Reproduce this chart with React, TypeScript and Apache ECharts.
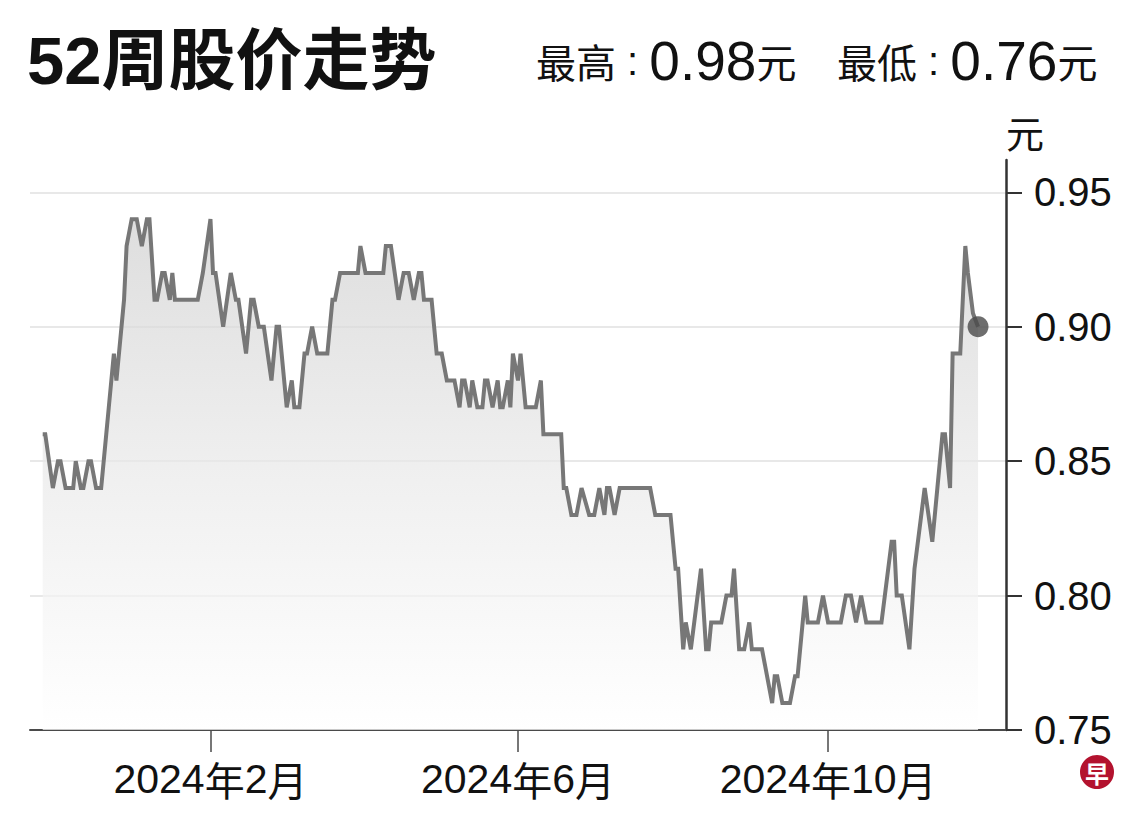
import React, { useEffect, useRef } from "react";
import * as echarts from "echarts";

// ---- data ----
const dates: string[] = [
  "2023-11-27", "2023-11-28", "2023-12-01", "2023-12-03", "2023-12-04", "2023-12-06", "2023-12-09", "2023-12-10",
  "2023-12-12", "2023-12-13", "2023-12-15", "2023-12-16", "2023-12-18", "2023-12-20", "2023-12-22", "2023-12-23",
  "2023-12-25", "2023-12-26", "2023-12-28", "2023-12-29", "2023-12-30", "2024-01-01", "2024-01-03", "2024-01-05",
  "2024-01-07", "2024-01-08", "2024-01-10", "2024-01-11", "2024-01-13", "2024-01-14", "2024-01-16", "2024-01-17",
  "2024-01-18", "2024-01-27", "2024-01-29", "2024-02-01", "2024-02-02", "2024-02-03", "2024-02-06", "2024-02-09",
  "2024-02-11", "2024-02-12", "2024-02-15", "2024-02-17", "2024-02-18", "2024-02-20", "2024-02-22", "2024-02-25",
  "2024-02-27", "2024-02-28", "2024-03-02", "2024-03-04", "2024-03-05", "2024-03-07", "2024-03-09", "2024-03-10",
  "2024-03-12", "2024-03-14", "2024-03-18", "2024-03-20", "2024-03-21", "2024-03-23", "2024-03-30", "2024-03-31",
  "2024-04-02", "2024-04-09", "2024-04-10", "2024-04-12", "2024-04-15", "2024-04-17", "2024-04-19", "2024-04-21",
  "2024-04-23", "2024-04-24", "2024-04-25", "2024-04-28", "2024-04-30", "2024-05-02", "2024-05-04", "2024-05-07",
  "2024-05-09", "2024-05-10", "2024-05-11", "2024-05-13", "2024-05-14", "2024-05-16", "2024-05-18", "2024-05-19",
  "2024-05-20", "2024-05-22", "2024-05-24", "2024-05-25", "2024-05-26", "2024-05-28", "2024-05-29", "2024-05-30",
  "2024-06-01", "2024-06-02", "2024-06-04", "2024-06-08", "2024-06-10", "2024-06-11", "2024-06-18", "2024-06-19",
  "2024-06-20", "2024-06-22", "2024-06-24", "2024-06-26", "2024-06-29", "2024-07-01", "2024-07-03", "2024-07-05",
  "2024-07-06", "2024-07-07", "2024-07-09", "2024-07-11", "2024-07-23", "2024-07-25", "2024-07-31", "2024-08-02",
  "2024-08-03", "2024-08-05", "2024-08-06", "2024-08-08", "2024-08-12", "2024-08-14", "2024-08-15", "2024-08-16",
  "2024-08-20", "2024-08-22", "2024-08-24", "2024-08-25", "2024-08-27", "2024-08-29", "2024-08-31", "2024-09-01",
  "2024-09-05", "2024-09-09", "2024-09-10", "2024-09-11", "2024-09-13", "2024-09-16", "2024-09-18", "2024-09-19",
  "2024-09-22", "2024-09-23", "2024-09-27", "2024-09-29", "2024-10-01", "2024-10-06", "2024-10-08", "2024-10-10",
  "2024-10-12", "2024-10-14", "2024-10-16", "2024-10-22", "2024-10-26", "2024-10-27", "2024-10-28", "2024-10-30",
  "2024-11-02", "2024-11-04", "2024-11-08", "2024-11-11", "2024-11-13", "2024-11-15", "2024-11-16", "2024-11-18",
  "2024-11-19", "2024-11-22", "2024-11-24", "2024-11-25", "2024-11-27", "2024-11-29",
];

const prices: number[] = [
  0.86, 0.86, 0.84, 0.85, 0.85, 0.84, 0.84, 0.85,
  0.84, 0.84, 0.85, 0.85, 0.84, 0.84, 0.86, 0.87,
  0.89, 0.88, 0.90, 0.91, 0.93, 0.94, 0.94, 0.93,
  0.94, 0.94, 0.91, 0.91, 0.92, 0.92, 0.91, 0.92,
  0.91, 0.91, 0.92, 0.94, 0.92, 0.92, 0.90, 0.92,
  0.91, 0.91, 0.89, 0.91, 0.91, 0.90, 0.90, 0.88,
  0.90, 0.90, 0.87, 0.88, 0.87, 0.87, 0.89, 0.89,
  0.90, 0.89, 0.89, 0.91, 0.91, 0.92, 0.92, 0.93,
  0.92, 0.92, 0.93, 0.93, 0.91, 0.92, 0.92, 0.91,
  0.92, 0.92, 0.91, 0.91, 0.89, 0.89, 0.88, 0.88,
  0.87, 0.88, 0.88, 0.87, 0.88, 0.87, 0.87, 0.88,
  0.88, 0.87, 0.88, 0.87, 0.87, 0.88, 0.87, 0.89,
  0.88, 0.89, 0.87, 0.87, 0.88, 0.86, 0.86, 0.84,
  0.84, 0.83, 0.83, 0.84, 0.83, 0.83, 0.84, 0.83,
  0.84, 0.84, 0.83, 0.84, 0.84, 0.83, 0.83, 0.81,
  0.81, 0.78, 0.79, 0.78, 0.81, 0.78, 0.78, 0.79,
  0.79, 0.80, 0.80, 0.81, 0.78, 0.78, 0.79, 0.78,
  0.78, 0.76, 0.77, 0.77, 0.76, 0.76, 0.77, 0.77,
  0.80, 0.79, 0.79, 0.80, 0.79, 0.79, 0.80, 0.80,
  0.79, 0.80, 0.79, 0.79, 0.82, 0.82, 0.80, 0.80,
  0.78, 0.81, 0.84, 0.82, 0.84, 0.86, 0.86, 0.84,
  0.89, 0.89, 0.93, 0.92, 0.905, 0.90,
];

const xTickDates: string[] = ["2024-02-01", "2024-06-01", "2024-10-01"];
const yTickValues: number[] = [0.75, 0.8, 0.85, 0.9, 0.95];
const xRange: string[] = ["2023-11-22", "2024-12-10"];
const yRange: number[] = [0.75, 0.962];

const titleText = "52周股价走势";
const highLabel = "最高";
const highValue = "0.98";
const lowLabel = "最低";
const lowValue = "0.76";
const unitText = "元";

const LATIN = "'Liberation Sans', Arial, sans-serif";
const CJK = "'Noto Sans CJK SC', sans-serif";

export default function App() {
  const ref = useRef<HTMLDivElement>(null);

  useEffect(() => {
    document.body.style.margin = "0";
    if (!ref.current) return;
    const chart = echarts.init(ref.current, undefined, { renderer: "svg" });

    const parse = (s: string) => echarts.time.parse(s).getTime();
    const seriesData = dates.map((d, i) => [parse(d), prices[i]]);
    const last = seriesData[seriesData.length - 1];
    const xTicks = xTickDates.map(parse);

    const headerRich = {
      c: { fontSize: 40, fontFamily: CJK, color: "#111111" },
      p: { fontSize: 40, fontFamily: LATIN, color: "#111111" },
      d: { fontSize: 55, fontFamily: LATIN, color: "#111111" },
    };
    const headerText = (label: string, value: string) =>
      `{c|${label}}{p| : }{d|${value}}{c|${unitText}}`;

    chart.setOption({
      animation: false,
      backgroundColor: "#ffffff",
      textStyle: { fontFamily: LATIN },
      grid: { left: 30, right: 134, top: 160, bottom: 88, containLabel: false },
      xAxis: {
        type: "value",
        min: parse(xRange[0]),
        max: parse(xRange[1]),
        axisLine: { show: true, onZero: false, lineStyle: { color: "#4a4a4a", width: 2 } },
        axisTick: {
          show: true,
          customValues: xTicks,
          length: 22,
          lineStyle: { color: "#4a4a4a", width: 1.5 },
        },
        axisLabel: {
          customValues: xTicks,
          formatter: (v: number) => {
            const d = new Date(v);
            return `{d|${d.getFullYear()}}{c|年}{d|${d.getMonth() + 1}}{c|月}`;
          },
          rich: {
            d: { fontSize: 41, fontFamily: LATIN, color: "#111111" },
            c: { fontSize: 40, fontFamily: CJK, color: "#111111" },
          },
          color: "#111111",
          margin: 28,
        },
        splitLine: { show: false },
      },
      yAxis: {
        type: "value",
        position: "right",
        min: yRange[0],
        max: yRange[1],
        name: unitText,
        nameLocation: "end",
        nameGap: 10,
        nameTextStyle: {
          fontSize: 38,
          color: "#111111",
          align: "left",
          verticalAlign: "bottom",
          fontFamily: CJK,
        },
        axisLine: { show: true, lineStyle: { color: "#333333", width: 2.5 } },
        axisTick: {
          show: true,
          inside: false,
          length: 16,
          customValues: yTickValues,
          lineStyle: { color: "#333333", width: 2 },
        },
        axisLabel: {
          customValues: yTickValues,
          formatter: (v: number) => v.toFixed(2),
          fontSize: 40,
          color: "#111111",
          margin: 28,
          fontFamily: LATIN,
        },
        splitLine: {
          show: true,
          showMinLine: false,
          lineStyle: { color: "#e8e8e8", width: 2 },
        },
      },
      series: [
        {
          type: "line",
          data: seriesData,
          symbol: "none",
          lineStyle: { color: "#777777", width: 4, join: "miter" },
          areaStyle: {
            origin: "start",
            color: new echarts.graphic.LinearGradient(0, 0, 0, 1, [
              { offset: 0, color: "#d0d0d0" },
              { offset: 0.5, color: "#e9e9e9" },
              { offset: 1, color: "#ffffff" },
            ]),
          },
          z: 2,
        },
        {
          type: "scatter",
          data: [last],
          symbol: "circle",
          symbolSize: 21,
          itemStyle: { color: "#4a4a4a" },
          z: 3,
        },
      ],
      graphic: [
        {
          type: "text",
          left: 27,
          top: 27,
          style: {
            text: titleText,
            fontSize: 67,
            fontWeight: "bold",
            fill: "#111111",
            fontFamily: "'Liberation Sans', Arial, 'Noto Sans CJK SC', sans-serif",
          },
        },
        {
          type: "text",
          left: 536,
          top: 33,
          style: { text: headerText(highLabel, highValue), rich: headerRich, fill: "#111111" },
        },
        {
          type: "text",
          left: 837,
          top: 33,
          style: { text: headerText(lowLabel, lowValue), rich: headerRich, fill: "#111111" },
        },
        {
          type: "group",
          left: 1080,
          top: 755,
          children: [
            { type: "circle", shape: { cx: 17, cy: 17, r: 17 }, style: { fill: "#b3122e" } },
            {
              type: "text",
              x: 17,
              y: 17,
              style: {
                text: "早",
                fontSize: 24,
                fontWeight: "bold",
                fill: "#ffffff",
                align: "center",
                verticalAlign: "middle",
                fontFamily: CJK,
              },
            },
          ],
        },
      ],
    });

    return () => chart.dispose();
  }, []);

  return <div ref={ref} style={{ width: 1140, height: 818 }} />;
}
